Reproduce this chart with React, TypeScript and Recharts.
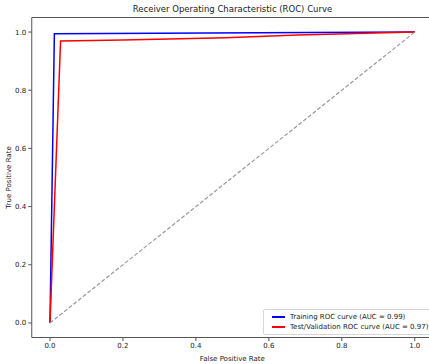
import { LineChart, Line, XAxis, YAxis, ReferenceLine, Legend } from 'recharts'

const FONT = '"DejaVu Sans", sans-serif'

// ROC points
const trainFpr = [0, 0.012, 1]
const trainTpr = [0, 0.994, 1]
const testFpr = [0, 0.029, 0.2, 0.48, 0.68, 1]
const testTpr = [0, 0.969, 0.973, 0.98, 0.99, 1]
const chanceFpr = [0, 1]
const chanceTpr = [0, 1]
const ticks = [0, 0.2, 0.4, 0.6, 0.8, 1.0]

const trainLabel = 'Training ROC curve (AUC = 0.99)'
const testLabel = 'Test/Validation ROC curve (AUC = 0.97)'

const toPoints = (xs: number[], ys: number[]) => xs.map((x, i) => ({ x, y: ys[i] }))

const trainData = toPoints(trainFpr, trainTpr)
const testData = toPoints(testFpr, testTpr)
const chanceData = toPoints(chanceFpr, chanceTpr)

const tickStyle = { fontSize: 7, fill: '#222', fontFamily: FONT }

function LegendBox() {
  const rows = [
    { color: '#0000ff', label: trainLabel },
    { color: '#ff0000', label: testLabel },
  ]
  return (
    <div
      style={{
        border: '1px solid #d6d6d6',
        borderRadius: 2,
        background: 'rgba(255,255,255,0.8)',
        padding: '2px 6px 2px 8px',
        fontFamily: FONT,
        fontSize: 7,
        color: '#222',
        lineHeight: '10px',
      }}
    >
      {rows.map((r) => (
        <div key={r.label} style={{ display: 'flex', alignItems: 'center', whiteSpace: 'nowrap' }}>
          <span style={{ display: 'inline-block', width: 13, height: 1.5, background: r.color, marginRight: 5 }} />
          {r.label}
        </div>
      ))}
    </div>
  )
}

export default function App() {
  return (
    <div style={{ position: 'absolute', left: 0, top: 0, width: 429, height: 364, overflow: 'hidden', background: '#fff' }}>
      <div
        style={{
          position: 'absolute',
          top: 4,
          left: 32,
          width: 401,
          textAlign: 'center',
          fontFamily: FONT,
          fontSize: 8.5,
          color: '#222',
        }}
      >
        Receiver Operating Characteristic (ROC) Curve
      </div>
      <LineChart width={440} height={364} margin={{ top: 17.5, right: 7, bottom: 0, left: 0 }}>
        <XAxis
          type="number"
          dataKey="x"
          domain={[-0.05, 1.05]}
          ticks={ticks}
          allowDataOverflow
          height={26.5}
          tickSize={3.5}
          tickMargin={2}
          tickFormatter={(v) => v.toFixed(1)}
          tick={tickStyle}
          stroke="#555"
          label={{ value: 'False Positive Rate', position: 'insideBottom', offset: 3, style: { ...tickStyle, textAnchor: 'middle' } }}
        />
        <YAxis
          type="number"
          dataKey="y"
          domain={[-0.05, 1.05]}
          ticks={ticks}
          allowDataOverflow
          width={31.75}
          tickSize={3.5}
          tickMargin={2}
          tickFormatter={(v) => v.toFixed(1)}
          tick={tickStyle}
          stroke="#555"
          label={{ value: 'True Positive Rate', angle: -90, position: 'insideLeft', offset: 0, dx: 9, style: { ...tickStyle, textAnchor: 'middle' } }}
        />
        <ReferenceLine y={1.05} stroke="#555" strokeWidth={1} />
        <ReferenceLine x={1.05} stroke="#555" strokeWidth={1} />
        <Line data={trainData} dataKey="y" type="linear" stroke="#0000ff" strokeWidth={1.5} dot={false} isAnimationActive={false} />
        <Line data={testData} dataKey="y" type="linear" stroke="#ff0000" strokeWidth={1.5} dot={false} isAnimationActive={false} />
        <Line data={chanceData} dataKey="y" type="linear" stroke="#999" strokeWidth={1.2} strokeDasharray="4 2" dot={false} isAnimationActive={false} />
        <Legend
          layout="horizontal"
          align="center"
          verticalAlign="middle"
          wrapperStyle={{ left: 263, top: 309, width: 'auto' }}
          content={() => <LegendBox />}
        />
      </LineChart>
    </div>
  )
}
